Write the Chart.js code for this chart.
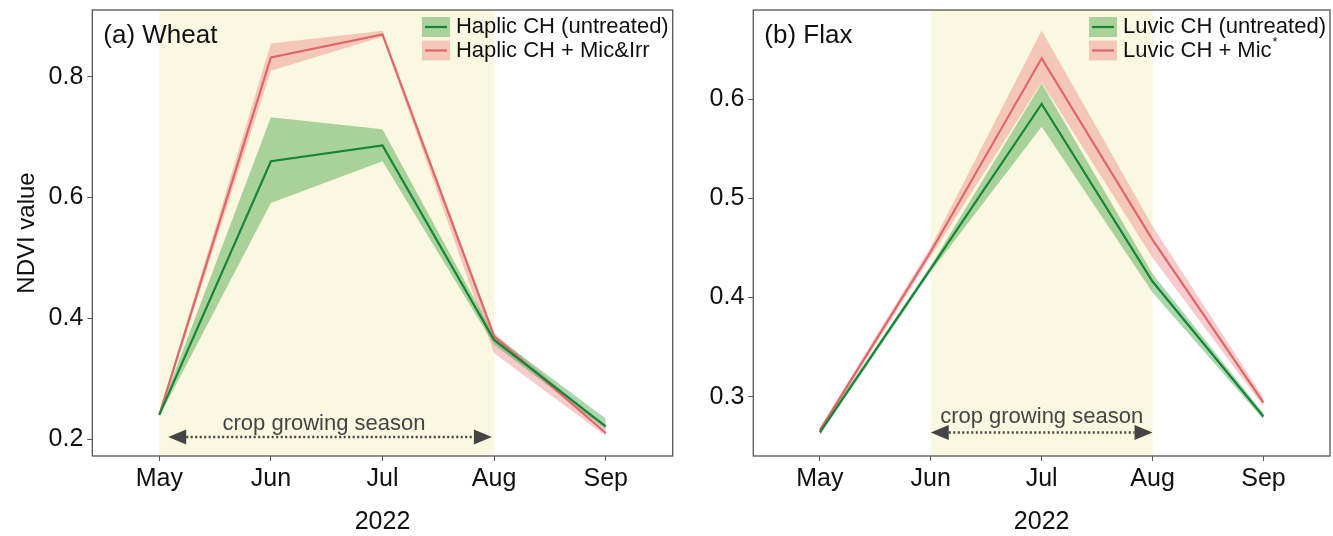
<!DOCTYPE html>
<html>
<head>
<meta charset="utf-8">
<script src="https://cdn.jsdelivr.net/npm/chart.js@4.4.0/dist/chart.umd.min.js"></script>
<style>
  html, body { margin: 0; padding: 0; background: #fff; }
  #wrap { position: relative; width: 1333px; height: 536px; }
  canvas { position: absolute; top: 0; }
  #wheat { left: 0; }
  #flax { left: 690px; }
</style>
</head>
<body>
<div id="wrap">
  <canvas id="wheat" width="690" height="536"></canvas>
  <canvas id="flax" width="643" height="536"></canvas>
</div>
<script>
const months = ['May', 'Jun', 'Jul', 'Aug', 'Sep'];

// (a) wheat, NDVI means and band limits
const wheatCtrl   = [0.240, 0.660, 0.686, 0.364, 0.221];
const wheatCtrlHi = [0.243, 0.733, 0.713, 0.372, 0.234];
const wheatCtrlLo = [0.237, 0.591, 0.660, 0.356, 0.216];
const wheatTrt    = [0.240, 0.832, 0.870, 0.370, 0.210];
const wheatTrtHi  = [0.243, 0.855, 0.876, 0.376, 0.218];
const wheatTrtLo  = [0.237, 0.810, 0.866, 0.342, 0.205];
const wheatTicks  = [0.2, 0.4, 0.6, 0.8];

// (b) flax
const flaxCtrl   = [0.264, 0.429, 0.595, 0.416, 0.280];
const flaxCtrlHi = [0.267, 0.432, 0.616, 0.424, 0.283];
const flaxCtrlLo = [0.261, 0.426, 0.572, 0.405, 0.277];
const flaxTrt    = [0.266, 0.446, 0.641, 0.458, 0.294];
const flaxTrtHi  = [0.269, 0.451, 0.669, 0.472, 0.299];
const flaxTrtLo  = [0.263, 0.441, 0.617, 0.440, 0.290];
const flaxTicks  = [0.3, 0.4, 0.5, 0.6];

const FONT = '"Liberation Sans", Arial, Helvetica, sans-serif';
const GREEN = '#15853a';
const GREEN_BAND = 'rgba(70,165,70,0.45)';
const RED = '#e0666a';
const RED_BAND = 'rgba(235,110,110,0.35)';
const SEASON = '#faf8e0';
const INK = '#444';

Chart.defaults.font.family = FONT;
Chart.defaults.color = '#111';

const pts = arr => arr.map((v, i) => ({x: i, y: v}));

function decor(cfg) {
  return {
    id: 'decor',
    beforeDraw(chart) {
      const {ctx, chartArea: a, scales: {x}} = chart;
      const x0 = x.getPixelForValue(cfg.season[0]);
      const x1 = x.getPixelForValue(cfg.season[1]);
      ctx.save();
      ctx.fillStyle = SEASON;
      ctx.fillRect(x0, a.top, x1 - x0, a.bottom - a.top);
      ctx.restore();
    },
    afterDatasetsDraw(chart) {
      const {ctx, scales: {x, y}} = chart;
      const ay = y.getPixelForValue(cfg.arrowY);
      const x0 = x.getPixelForValue(cfg.arrow[0]);
      const x1 = x.getPixelForValue(cfg.arrow[1]);
      const head = 18, hh = 7.5;
      ctx.save();
      ctx.fillStyle = INK;
      ctx.beginPath();
      ctx.moveTo(x0, ay); ctx.lineTo(x0 + head, ay - hh); ctx.lineTo(x0 + head, ay + hh); ctx.closePath();
      ctx.moveTo(x1, ay); ctx.lineTo(x1 - head, ay - hh); ctx.lineTo(x1 - head, ay + hh); ctx.closePath();
      ctx.fill();
      ctx.strokeStyle = INK;
      ctx.lineWidth = 2.5;
      ctx.setLineDash([2, 2.5]);
      ctx.beginPath();
      ctx.moveTo(x0 + head, ay); ctx.lineTo(x1 - head, ay);
      ctx.stroke();
      ctx.setLineDash([]);
      ctx.font = '22px ' + FONT;
      ctx.textAlign = 'center';
      ctx.textBaseline = 'middle';
      ctx.fillText('crop growing season', x.getPixelForValue(cfg.textX), y.getPixelForValue(cfg.textY));
      ctx.restore();
    },
    afterDraw(chart) {
      const {ctx, chartArea: a} = chart;
      ctx.save();
      // panel frame
      ctx.strokeStyle = '#555';
      ctx.lineWidth = 1.3;
      ctx.strokeRect(a.left, a.top, a.right - a.left, a.bottom - a.top);
      // panel label
      ctx.fillStyle = '#111';
      ctx.font = '26px ' + FONT;
      ctx.textAlign = 'left';
      ctx.textBaseline = 'middle';
      ctx.fillText(cfg.label, a.left + 11, a.top + 26);
      // legend
      ctx.font = '22px ' + FONT;
      const supW = cfg.legend.some(r => r.sup) ? 7 : 0;
      const widths = cfg.legend.map(r => ctx.measureText(r.text).width + (r.sup ? supW : 0));
      const textRight = a.right - 4;
      const textLeft = textRight - Math.max(...widths);
      const boxW = 28, boxH = 20;
      const boxX = textLeft - 6 - boxW;
      cfg.legend.forEach((r, i) => {
        const cy = a.top + 17 + i * 23.5;
        ctx.fillStyle = r.band;
        ctx.fillRect(boxX, cy - boxH / 2, boxW, boxH);
        ctx.strokeStyle = r.line;
        ctx.lineWidth = 2.2;
        ctx.beginPath();
        ctx.moveTo(boxX + 3, cy); ctx.lineTo(boxX + boxW - 3, cy);
        ctx.stroke();
        ctx.fillStyle = '#111';
        ctx.font = '22px ' + FONT;
        ctx.fillText(r.text, textLeft, cy);
        if (r.sup) {
          const w = ctx.measureText(r.text).width;
          ctx.font = '13px ' + FONT;
          ctx.fillText('*', textLeft + w + 1, cy - 8);
        }
      });
      ctx.restore();
    }
  };
}

function makeChart(id, d) {
  const lineDs = (data, color) => ({
    data: pts(data), borderColor: color, borderWidth: 2.2, pointRadius: 0, fill: false, tension: 0
  });
  const bandHi = (data, color) => ({
    data: pts(data), borderWidth: 0, pointRadius: 0, backgroundColor: color, fill: '+1', tension: 0
  });
  const bandLo = data => ({
    data: pts(data), borderWidth: 0, pointRadius: 0, fill: false, tension: 0
  });

  return new Chart(document.getElementById(id), {
    type: 'line',
    data: {
      datasets: [
        lineDs(d.ctrl, GREEN),
        lineDs(d.trt, RED),
        bandHi(d.ctrlHi, GREEN_BAND),
        bandLo(d.ctrlLo),
        bandHi(d.trtHi, RED_BAND),
        bandLo(d.trtLo)
      ]
    },
    options: {
      responsive: false,
      animation: false,
      layout: { padding: { top: 10, right: d.padRight, left: 0, bottom: 0 } },
      plugins: {
        legend: { display: false },
        tooltip: { enabled: false },
        filler: { drawTime: 'beforeDatasetsDraw' }
      },
      scales: {
        x: {
          type: 'linear',
          min: -0.6,
          max: 4.6,
          afterBuildTicks: s => { s.ticks = months.map((m, i) => ({value: i})); },
          afterFit: s => { s.height = 80; s.paddingLeft = 0; s.paddingRight = 0; },
          ticks: {
            autoSkip: false, maxRotation: 0, padding: 3,
            font: { size: 25 }, color: '#111',
            callback: v => months[v]
          },
          grid: { drawOnChartArea: false, tickLength: 5, tickColor: '#555' },
          border: { display: false },
          title: { display: true, text: '2022', font: { size: 25, lineHeight: 1.1 }, color: '#111', padding: { top: 0, bottom: 0 } }
        },
        y: {
          min: d.yMin,
          max: d.yMax,
          afterBuildTicks: s => { s.ticks = d.ticks.map(v => ({value: v})); },
          afterFit: s => { s.width = d.yWidth; s.paddingTop = 0; s.paddingBottom = 0; },
          ticks: { padding: 4, font: { size: 25 }, color: '#111', callback: v => v.toFixed(1) },
          grid: { drawOnChartArea: false, tickLength: 5, tickColor: '#555' },
          border: { display: false },
          title: { display: !!d.yTitle, text: d.yTitle, font: { size: 24 }, color: '#111', padding: { top: 13, bottom: 0 } }
        }
      }
    },
    plugins: [decor(d.decor)]
  });
}

makeChart('wheat', {
  ctrl: wheatCtrl, ctrlHi: wheatCtrlHi, ctrlLo: wheatCtrlLo,
  trt: wheatTrt, trtHi: wheatTrtHi, trtLo: wheatTrtLo,
  ticks: wheatTicks, yMin: 0.1719, yMax: 0.9104,
  yWidth: 92.3, padRight: 17.3, yTitle: 'NDVI value',
  decor: {
    season: [0, 3], arrow: [0.08, 2.98], arrowY: 0.2035, textX: 1.476, textY: 0.225,
    label: '(a) Wheat',
    legend: [
      { text: 'Haplic CH (untreated)', band: GREEN_BAND, line: GREEN },
      { text: 'Haplic CH + Mic&Irr', band: RED_BAND, line: RED }
    ]
  }
});

makeChart('flax', {
  ctrl: flaxCtrl, ctrlHi: flaxCtrlHi, ctrlLo: flaxCtrlLo,
  trt: flaxTrt, trtHi: flaxTrtHi, trtLo: flaxTrtLo,
  ticks: flaxTicks, yMin: 0.2402, yMax: 0.6897,
  yWidth: 63.3, padRight: 3, yTitle: '',
  decor: {
    season: [1, 3], arrow: [1, 3], arrowY: 0.264, textX: 2, textY: 0.2795,
    label: '(b) Flax',
    legend: [
      { text: 'Luvic CH (untreated)', band: GREEN_BAND, line: GREEN },
      { text: 'Luvic CH + Mic', band: RED_BAND, line: RED, sup: true }
    ]
  }
});
</script>
</body>
</html>
